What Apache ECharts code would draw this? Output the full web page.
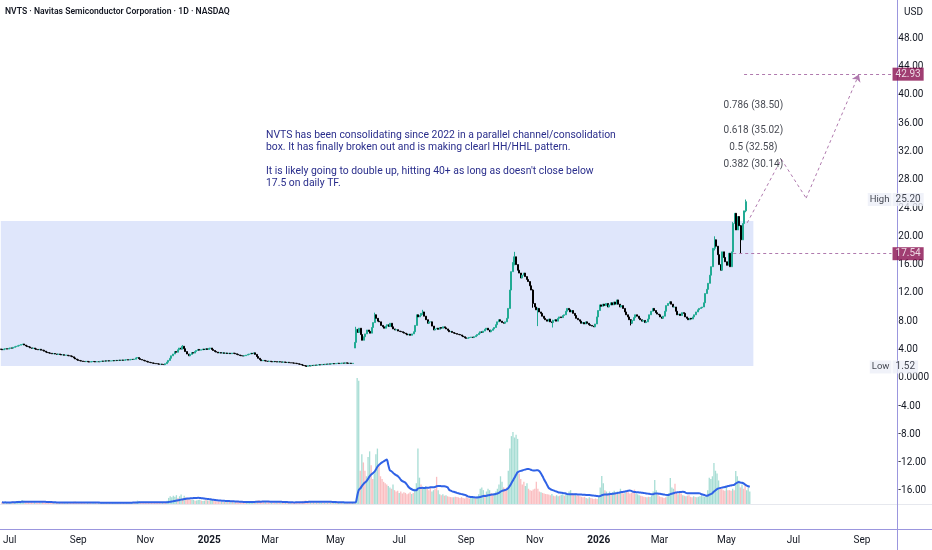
<!DOCTYPE html>
<html><head><meta charset="utf-8">
<script src="https://cdn.jsdelivr.net/npm/echarts@6/dist/echarts.min.js"></script>
<style>html,body{margin:0;padding:0;background:#fff}#c{width:932px;height:550px}</style>
</head><body><div id="c"></div>
<script>
// ---------- DATA ----------
const titleText = 'NVTS · Navitas Semiconductor Corporation · 1D · NASDAQ';
const currencyText = 'USD';
const noteLines = [
  'NVTS has been consolidating since 2022 in a parallel channel/consolidation',
  'box. It has finally broken out and is making clearl HH/HHL pattern.',
  '',
  "It is likely going to double up, hitting 40+ as long as doesn't close below",
  '17.5 on daily TF.'
];
const firstDate = [2024, 5, 24];   // 2024-06-24
const totalBars = 575;
const holidays = ['2024-07-04','2024-09-02','2024-11-28','2024-12-25','2025-01-01','2025-01-09','2025-01-20','2025-02-17','2025-04-18','2025-05-26','2025-06-19','2025-07-04','2025-09-01','2025-11-27','2025-12-25','2026-01-01','2026-01-19','2026-02-16','2026-04-03'];
const monthNames = ['Jan','Feb','Mar','Apr','May','Jun','Jul','Aug','Sep','Oct','Nov','Dec'];
const priceTicks = [-16,-12,-8,-4,0,4,8,12,16,20,24,28,32,36,40,44,48];
const priceMin = -17.86, priceMax = 53.42;

const firstOpen = 4.05;
const closes = [
 4.02,3.95,4.05,4.10,4.05,4.15,4.22,4.18,4.30,4.38,
 4.45,4.52,4.60,4.70,4.77,4.62,4.50,4.40,4.35,4.22,
 4.15,4.20,4.08,4.00,3.95,4.02,3.90,3.88,3.75,3.62,
 3.55,3.50,3.45,3.38,3.42,3.35,3.30,3.36,3.28,3.22,
 3.25,3.18,3.20,3.12,3.10,3.05,2.95,2.80,2.65,2.55,
 2.45,2.40,2.35,2.30,2.28,2.32,2.25,2.22,2.26,2.30,
 2.28,2.24,2.27,2.26,2.31,2.35,2.33,2.38,2.36,2.40,
 2.36,2.38,2.42,2.40,2.45,2.43,2.48,2.46,2.50,2.47,
 2.52,2.55,2.50,2.56,2.60,2.58,2.62,2.80,2.85,2.70,
 2.58,2.50,2.42,2.35,2.28,2.20,2.15,2.10,2.05,2.02,
 1.98,1.95,1.90,1.92,1.88,1.85,1.98,2.20,2.45,2.75,
 3.10,3.35,3.70,3.60,3.95,4.20,4.05,4.45,4.10,3.70,
 3.35,3.10,3.30,3.55,3.48,3.70,3.85,4.00,3.90,3.95,
 4.05,3.98,4.10,4.00,4.15,4.20,4.00,3.85,3.70,3.62,
 3.50,3.55,3.48,3.52,3.45,3.50,3.42,3.46,3.40,3.48,
 3.45,3.38,3.30,3.22,3.15,3.10,3.07,3.12,3.20,3.30,
 3.35,3.45,3.40,3.52,3.30,3.00,2.75,2.55,2.40,2.45,
 2.38,2.35,2.30,2.34,2.28,2.25,2.30,2.27,2.22,2.26,
 2.24,2.20,2.23,2.18,2.15,2.18,2.12,2.10,2.08,2.05,
 2.03,1.98,1.92,1.88,1.80,1.72,1.68,1.62,1.70,1.66,
 1.74,1.72,1.78,1.76,1.80,1.84,1.82,1.88,1.86,1.92,
 1.90,1.95,1.93,1.98,2.00,1.97,2.02,2.05,2.00,2.04,
 2.08,2.05,2.10,2.06,2.03,2.05,2.02,2.03,5.00,6.85,
 6.40,7.00,6.10,5.30,5.80,6.20,6.75,6.55,6.30,7.10,
 7.80,8.90,8.40,8.00,7.90,7.40,7.20,7.00,7.30,7.50,
 7.25,7.70,7.20,6.90,6.75,6.80,6.60,6.55,6.50,6.40,
 6.30,6.20,6.05,6.15,6.00,6.20,6.50,7.40,8.90,8.60,
 8.80,9.10,9.30,8.70,8.20,7.70,7.90,7.90,7.30,6.75,
 6.90,7.00,6.85,7.10,7.00,7.20,7.05,6.90,6.70,6.50,
 6.55,6.40,6.30,6.25,6.15,6.10,6.05,5.90,5.80,5.65,
 5.57,5.62,5.70,5.75,5.68,5.80,5.95,6.10,6.30,6.50,
 6.40,6.60,6.85,7.00,6.75,6.50,6.70,6.90,7.10,7.50,
 7.90,8.20,8.00,7.80,7.70,7.90,8.40,9.80,12.40,15.00,
 16.30,17.10,16.00,15.20,14.80,14.10,14.50,14.80,14.30,13.90,
 13.60,13.00,12.40,10.50,10.00,9.60,9.80,9.30,9.10,8.70,
 8.40,8.20,8.00,8.30,7.90,7.80,8.10,8.20,8.00,8.40,
 8.60,8.50,8.80,8.90,9.40,9.80,9.60,9.30,9.50,9.10,
 8.80,8.40,8.20,8.00,7.70,7.80,7.60,7.90,7.70,7.50,
 7.40,7.30,7.20,7.60,8.60,9.50,10.30,10.10,10.40,10.20,
 10.50,10.00,10.30,10.60,10.30,10.70,10.40,11.00,10.40,10.00,
 10.20,9.80,9.30,8.90,8.60,8.20,7.70,8.10,8.50,8.90,
 8.70,8.40,8.20,8.00,8.10,7.80,7.90,8.30,8.90,9.40,
 9.80,9.50,9.20,9.00,8.90,8.60,8.40,8.70,9.40,10.20,
 10.50,10.75,10.40,10.00,10.00,9.40,8.90,9.00,8.80,9.20,
 9.10,8.60,8.40,8.20,8.40,8.30,8.60,8.90,9.30,9.60,
 9.80,9.90,10.00,10.60,11.90,12.50,13.35,14.50,15.70,18.30,
 19.50,18.60,17.40,16.00,15.20,17.80,17.00,16.40,15.90,17.60,
 15.70,17.80,21.80,23.25,20.90,22.80,21.50,19.50,21.80,23.60,24.90
];
const gapOpens = [[228, 4.20]];
const wicks = [ // [index, low, high]
 [117,4.00,4.62],[197,1.52,1.70],[229,5.00,7.20],[241,7.80,9.20],[272,8.90,9.60],
 [331,15.90,17.80],[343,9.90,12.50],[346,7.30,9.90],[356,7.10,8.20],[406,7.40,8.30],
 [460,18.00,20.00],[472,17.60,22.00],[477,17.60,21.60],[480,23.40,25.20]
];
const volumes = [ // millions
 6,5,7,5,4,6,8,9,7,10, 9,12,11,14,12,9,8,7,6,7, 5,6,5,4,6,5,7,5,6,8, 7,5,6,5,4,5,4,5,6,4,
 5,4,5,6,5,7,8,9,7,6, 5,4,5,4,3,4,5,4,3,4, 4,3,4,5,4,5,4,5,4,5, 4,5,4,5,6,4,5,4,5,6,
 5,6,5,6,7,6,8,12,10,7, 6,5,6,5,6,5,6,5,6,5, 6,5,7,6,5,6,12,22,28,24, 30,26,32,22,28,34,20,30,24,22,
 18,16,14,15,12,13,14,15,12,11, 12,14,13,12,15,13,11,10,9,8, 9,8,7,8,7,8,7,6,7,6, 7,8,7,6,7,6,8,7,9,10,
 9,11,8,10,12,14,11,9,8,7, 6,7,6,5,6,5,6,5,6,5, 5,6,5,6,5,6,7,6,7,8, 7,8,9,11,12,13,10,12,9,8,
 7,8,6,7,6,5,6,5,6,5, 6,5,6,5,6,7,6,5,6,5, 6,5,6,5,6,7,6,8,455,445,
 120,180,150,120,100,170,190,140,90,110, 180,200,140,100,90,80,75,70,65,60,
 55,70,50,45,48,40,45,38,42,40, 35,38,42,36,40,55,75,200,95,70,
 60,60,65,55,50,60,45,50,55,98, 50,35,32,35,30,32,28,26,25,24,
 24,26,25,24,22,25,22,20,24,22, 20,22,24,22,20,28,35,55,60,50,
 35,45,55,50,40,35,40,45,55,70, 100,80,60,55,60,120,200,245,260,240,
 250,235,110,90,70,80,65,75,55,50, 48,52,55,80,55,45,42,40,38,36,
 35,34,32,36,30,28,32,28,30,33, 35,30,38,36,45,50,40,35,38,32,
 30,28,26,24,26,22,20,24,22,20, 18,20,18,25,60,101,75,50,45,40,
 45,38,42,48,40,45,38,55,42,38, 40,45,42,38,40,45,52,38,35,32,
 30,28,26,25,24,26,25,30,45,87, 50,35,28,25,24,22,24,28,40,94,
 60,55,73,40,35,42,38,32,30,28, 30,32,26,24,28,25,24,26,28,30,
 28,26,30,50,95,90,100,148,120,110, 85,60,55,50,48,65,50,50,48,55,
 50,119,100,85,60,70,55,65,50,60,45
];
const volMaLength = 20;

const boxRange = {startIdx: 0, endIdx: 485, top: 22.16, bottom: 1.65};
const fibLevels = ['0.786','0.618','0.5','0.382'];
const fibPrices = [38.50, 35.02, 32.58, 30.14];
const fibLabelIdx = 485;
const zigzag = [[481, 21.9], [503, 30.9], [519, 25.4], [553, 42.9]];
const targetLevel = {value: 42.93, startIdx: 479};
const stopLevel = {value: 17.54, startIdx: 472};
const highValue = 25.20, lowValue = 1.52;

// ---------- BUILD ----------
function buildDates(){
  const out=[]; const d=new Date(Date.UTC(firstDate[0],firstDate[1],firstDate[2]));
  while(out.length<totalBars){
    const dow=d.getUTCDay(); const s=d.toISOString().slice(0,10);
    if(dow!==0 && dow!==6 && holidays.indexOf(s)<0) out.push(s);
    d.setUTCDate(d.getUTCDate()+1);
  }
  return out;
}
const dates = buildDates();
const lastIdx = dates.length-1;

const candles = closes.map((c,i)=>{
  let o = i===0 ? firstOpen : closes[i-1];
  const g = gapOpens.find(x=>x[0]===i); if(g) o=g[1];
  let lo=Math.min(o,c), hi=Math.max(o,c);
  const w = wicks.find(x=>x[0]===i); if(w){lo=w[1];hi=w[2];}
  return [o,c,lo,hi];
});
const UP='#22ab94', DOWN='#000000';
const volData = volumes.map((v,i)=>({value:v, itemStyle:{color: candles[i][1]>=candles[i][0] ? 'rgba(34,171,148,0.40)' : 'rgba(242,84,91,0.38)'}}));
const volMA = volumes.map((v,i)=>{
  const s=Math.max(0,i-volMaLength+1); let sum=0; for(let k=s;k<=i;k++) sum+=volumes[k];
  return +(sum/(i-s+1)).toFixed(2);
});

function isTickDay(i){
  if(i===0) return false;
  const m=+dates[i].slice(5,7), pm=+dates[i-1].slice(5,7);
  return m!==pm && m%2===1;
}
function fmtLabel(v){
  const m=+v.slice(5,7);
  return m===1 ? '{y|'+v.slice(0,4)+'}' : monthNames[m-1];
}

const DASH='#b07aae';
const segs=[];
for(let k=0;k<zigzag.length-1;k++){
  const last = k===zigzag.length-2;
  segs.push([{coord:zigzag[k], symbol:'none'},{coord:zigzag[k+1], symbol: last?'arrow':'none', symbolSize: last?7:0}]);
}

const chart = echarts.init(document.getElementById('c'), null, {renderer:'canvas'});
const FONT = 'Roboto, "Noto Sans", sans-serif';
const option = {
  animation:false,
  backgroundColor:'#ffffff',
  textStyle:{fontFamily:FONT},
  grid:[{left:0,right:35,top:0,height:504},{left:0,right:35,top:371,height:133}],
  xAxis:[
    {type:'category',gridIndex:0,data:dates,boundaryGap:true,axisLine:{show:false},axisTick:{show:false},axisLabel:{show:false},splitLine:{show:false}},
    {type:'category',gridIndex:1,data:dates,boundaryGap:true,axisLine:{show:false},axisTick:{show:false},splitLine:{show:false},
     axisLabel:{interval:(i)=>isTickDay(i), formatter:(v)=>fmtLabel(v), margin:31, color:'#131722', fontSize:10, fontFamily:FONT,
       showMinLabel:true, showMaxLabel:true, hideOverlap:false,
       rich:{y:{fontWeight:'bold',fontSize:10,color:'#131722',fontFamily:FONT}}}}
  ],
  yAxis:[
    {type:'value',gridIndex:0,position:'right',min:priceMin,max:priceMax,axisLine:{show:false},splitLine:{show:false},
     axisTick:{show:false,customValues:priceTicks},
     axisLabel:{margin:6,color:'#131722',fontSize:10,fontFamily:FONT,customValues:priceTicks,
       formatter:(v)=> v===0 ? '0.0000' : v.toFixed(2)}},
    {type:'value',gridIndex:1,min:0,max:480,show:false}
  ],
  series:[
    {type:'candlestick',name:'NVTS',xAxisIndex:0,yAxisIndex:0,data:candles,barWidth:1.5,
     itemStyle:{color:UP,color0:DOWN,borderColor:UP,borderColor0:DOWN,borderWidth:1},
     markArea:{silent:true,itemStyle:{color:'#dfe6fb'},
       data:[[{coord:[boxRange.startIdx,boxRange.top]},{coord:[boxRange.endIdx,boxRange.bottom]}]]}},
    {type:'bar',name:'Volume',xAxisIndex:1,yAxisIndex:1,data:volData,barWidth:1.3,z:1},
    {type:'line',name:'Vol MA',xAxisIndex:1,yAxisIndex:1,data:volMA,showSymbol:false,symbol:'none',smooth:0.3,
     lineStyle:{color:'#2f62e6',width:2},z:3},
    {type:'line',name:'levels',xAxisIndex:0,yAxisIndex:0,data:[],
     markLine:{silent:true,symbol:['none','none'],animation:false,label:{show:false},
       lineStyle:{color:DASH,type:[3,3],width:1},
       data:[
         [{coord:[targetLevel.startIdx,targetLevel.value]},{coord:[lastIdx,targetLevel.value]}],
         [{coord:[stopLevel.startIdx,stopLevel.value]},{coord:[lastIdx,stopLevel.value]}],
         ...segs
       ]}},
    {type:'scatter',name:'fib',xAxisIndex:0,yAxisIndex:0,symbolSize:0.1,itemStyle:{color:'transparent'},z:5,
     data:fibPrices.map((p,i)=>({value:[fibLabelIdx,p],lvl:fibLevels[i]})),
     label:{show:true,position:'inside',color:'#131722',fontSize:10,fontFamily:FONT,
       formatter:(pm)=>pm.data.lvl+' ('+pm.data.value[1].toFixed(2)+')'}},
    {type:'scatter',name:'tags',xAxisIndex:0,yAxisIndex:0,symbolSize:0.1,itemStyle:{color:'transparent'},z:10,clip:false,
     data:[
       {value:[lastIdx,targetLevel.value],label:{backgroundColor:'#880e4f',color:'#ffffff'}},
       {value:[lastIdx,stopLevel.value],label:{backgroundColor:'#880e4f',color:'#ffffff'}},
       {value:[lastIdx,highValue],label:{backgroundColor:'#eceff8',color:'#131722'}},
       {value:[lastIdx,lowValue],label:{backgroundColor:'#eceff8',color:'#131722'}}
     ],
     label:{show:true,position:'right',distance:1,fontSize:10,fontFamily:FONT,padding:[2,3,1,3],
       formatter:(pm)=>pm.data.value[1].toFixed(2)}},
    {type:'scatter',name:'sideTags',xAxisIndex:0,yAxisIndex:0,symbolSize:0.1,itemStyle:{color:'transparent'},z:10,clip:false,
     data:[{value:[lastIdx,highValue],txt:'High'},{value:[lastIdx,lowValue],txt:'Low'}],
     label:{show:true,position:'left',distance:0,fontSize:9.5,fontFamily:FONT,padding:[2,2,1,2],
       backgroundColor:'#eceff8',color:'#131722',formatter:(pm)=>pm.data.txt}}
  ],
  graphic:[
    {type:'line',shape:{x1:0,y1:504.5,x2:932,y2:504.5},style:{stroke:'#e6e8ee',lineWidth:1},silent:true},
    {type:'line',shape:{x1:0,y1:529.5,x2:932,y2:529.5},style:{stroke:'#9b96de',lineWidth:1},silent:true},
    {type:'line',shape:{x1:897.5,y1:0,x2:897.5,y2:550},style:{stroke:'#9b96de',lineWidth:1},silent:true},
    {type:'text',left:5,top:7,style:{text:titleText,font:'600 8.6px Roboto, sans-serif',fill:'#131722'},silent:true},
    {type:'text',left:904,top:7,style:{text:currencyText,font:'10px '+FONT,fill:'#131722'},silent:true},
    {type:'text',left:266,top:130,style:{text:noteLines.join('\n'),font:'10.4px '+FONT,fill:'#2a2e8c',lineHeight:11.8},silent:true}
  ]
};
chart.setOption(option);
</script></body></html>
